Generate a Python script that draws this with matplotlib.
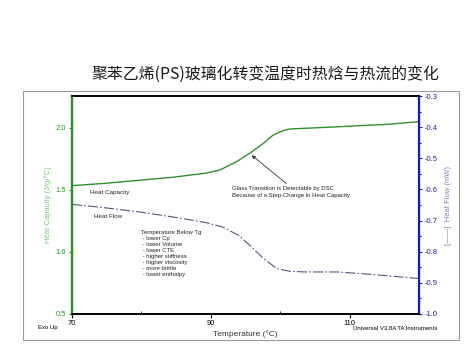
import matplotlib
matplotlib.use('Agg')
import matplotlib.pyplot as plt
from matplotlib.patches import Rectangle
from matplotlib.ticker import MultipleLocator

plt.rcParams['font.family'] = ['Liberation Sans', 'DejaVu Sans']

# heat capacity (left axis, J/g/°C)
cp_temp = [70, 74.8, 79.6, 84.4, 89.2, 91.3, 93.7, 95.6, 97.6, 99.0, 100.4, 101.4,
           108.4, 115.6, 120]
cp_vals = [1.535, 1.554, 1.578, 1.602, 1.635, 1.661, 1.728, 1.796, 1.877, 1.944,
           1.978, 1.992, 2.010, 2.030, 2.051]

# heat flow (right axis, mW)
hf_temp = [70, 74.8, 79.6, 84.4, 89.2, 91.6, 94.0, 95.6, 97.6, 99.5, 101.4, 103.6,
           108.4, 113.2, 120]
hf_vals = [-0.648, -0.659, -0.672, -0.688, -0.706, -0.720, -0.747, -0.779, -0.822,
           -0.854, -0.863, -0.865, -0.865, -0.873, -0.886]

x_ticks = [70, 90, 110]
left_ticks = [0.5, 1.0, 1.5, 2.0]
right_ticks = [-1.0, -0.9, -0.8, -0.7, -0.6, -0.5, -0.4, -0.3]

below_tg = ['Temperature Below Tg', ' - lower Cp', ' - lower Volume', ' - lower CTE',
            ' - higher stiffness', ' - higher viscosity', ' - more brittle', ' - lower enthalpy']

green = '#2f8f2f'
blue = '#1a1aa8'

fig = plt.figure(figsize=(4.74, 3.55), dpi=100)
fig.text(0.561, 0.79, '聚苯乙烯(PS)玻璃化转变温度时热焓与热流的变化',
         ha='center', va='center', fontsize=11.4, color='#1a1a1a',
         family=['Noto Sans CJK SC', 'DejaVu Sans'])

# grey frame round the instrument plot
fig.patches.append(Rectangle((23 / 474, 1 - 340 / 355), 436 / 474, 249 / 355,
                             transform=fig.transFigure, fill=False,
                             edgecolor='#999999', lw=0.8))

ax = fig.add_axes([72 / 474, 1 - 314 / 355, 347 / 474, 218 / 355])
ax2 = ax.twinx()

ax.plot(cp_temp, cp_vals, color=green, lw=1.0)
ax2.plot(hf_temp, hf_vals, color='#55557a', lw=0.8, dashes=(9, 2, 1.5, 2))

ax.set_xlim(70, 120)
ax.set_ylim(0.5, 2.258)
ax2.set_ylim(-1.0, -0.3)

ax.set_xticks(x_ticks)
ax.xaxis.set_minor_locator(MultipleLocator(10))
ax.set_yticks(left_ticks)
ax.set_yticklabels([f'{v:.1f}' for v in left_ticks])
ax2.set_yticks(right_ticks)
ax2.set_yticklabels([f'{v:.1f}' for v in right_ticks])
ax2.yaxis.set_minor_locator(MultipleLocator(0.05))

ax.tick_params(axis='x', labelsize=5.5, length=3, width=0.8, pad=1, colors='black')
ax.tick_params(axis='x', which='minor', length=2, direction='in')
ax.tick_params(axis='y', labelsize=5.5, length=2.5, width=0.8, pad=1.5,
               colors=green)
ax2.tick_params(axis='y', which='both', labelsize=5.5, length=2.5, width=0.8,
                pad=1.5, colors=blue)
ax2.tick_params(axis='y', which='minor', length=1.5)

for a in (ax, ax2):
    a.spines['top'].set_linewidth(1.2)
    a.spines['bottom'].set_linewidth(1.2)
ax2.spines['left'].set_color(green)
ax2.spines['left'].set_linewidth(1.6)
ax2.spines['right'].set_color(blue)
ax2.spines['right'].set_linewidth(1.6)
ax.spines['left'].set_color(green)
ax.spines['left'].set_linewidth(1.6)

ax.set_xlabel('Temperature (°C)', fontsize=6, labelpad=3, color='#333333')
ax.set_ylabel('Heat Capacity (J/g/°C)', fontsize=5.5, color='#7fbf7f', labelpad=3)
ax2.set_ylabel('[——]  Heat Flow (mW)', fontsize=5.5, color='#8080b0', labelpad=5)

ax.text(72.6, 1.476, 'Heat Capacity', fontsize=4.5, va='center', color='#222222')
ax.text(73.2, 1.285, 'Heat Flow', fontsize=4.5, va='center', color='#222222')
ax.text(80.0, 0.984, '\n'.join(below_tg), fontsize=4.3, va='center',
        linespacing=1.25, color='#222222')
ax.annotate('Glass Transition is Detectable by DSC\nBecause of a Step-Change in Heat Capacity',
            xy=(95.9, 1.78), xytext=(93.05, 1.484), fontsize=4.3, color='#222222',
            ha='left', va='center', linespacing=1.3,
            arrowprops=dict(arrowstyle='-|>', color='#333333', lw=0.6,
                            mutation_scale=5, shrinkA=0, shrinkB=0,
                            relpos=(0.49, 1.0)))

fig.text(48 / 474, 1 - 328 / 355, 'Exo Up', fontsize=4.3, ha='center', va='center')
fig.text(437 / 474, 1 - 328 / 355, 'Universal V3.8A TA Instruments', fontsize=4.3,
         ha='right', va='center')

fig.savefig('out.png', dpi=100)
